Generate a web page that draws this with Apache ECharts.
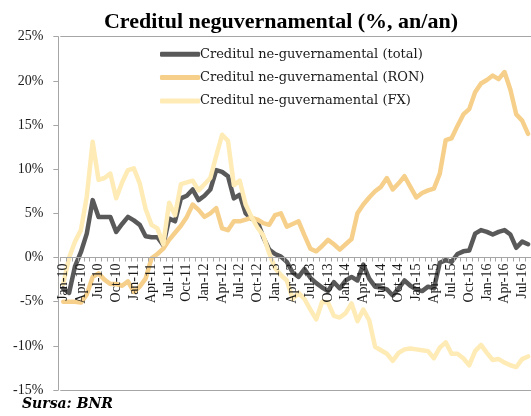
<!DOCTYPE html>
<html>
<head>
<meta charset="utf-8">
<script src="https://cdn.jsdelivr.net/npm/echarts@6/dist/echarts.min.js"></script>
<style>
html,body{margin:0;padding:0;background:#fff;}
#chart{width:531px;height:416px;}
</style>
</head>
<body>
<div id="chart"></div>
<script>
const categories = [
'Jan-10','Feb-10','Mar-10','Apr-10','May-10','Jun-10','Jul-10','Aug-10','Sep-10','Oct-10','Nov-10','Dec-10',
'Jan-11','Feb-11','Mar-11','Apr-11','May-11','Jun-11','Jul-11','Aug-11','Sep-11','Oct-11','Nov-11','Dec-11',
'Jan-12','Feb-12','Mar-12','Apr-12','May-12','Jun-12','Jul-12','Aug-12','Sep-12','Oct-12','Nov-12','Dec-12',
'Jan-13','Feb-13','Mar-13','Apr-13','May-13','Jun-13','Jul-13','Aug-13','Sep-13','Oct-13','Nov-13','Dec-13',
'Jan-14','Feb-14','Mar-14','Apr-14','May-14','Jun-14','Jul-14','Aug-14','Sep-14','Oct-14','Nov-14','Dec-14',
'Jan-15','Feb-15','Mar-15','Apr-15','May-15','Jun-15','Jul-15','Aug-15','Sep-15','Oct-15','Nov-15','Dec-15',
'Jan-16','Feb-16','Mar-16','Apr-16','May-16','Jun-16','Jul-16','Aug-16'
];
const totalValues = [
-3.5,-4.0,-1.0,0.6,2.7,6.5,4.6,4.6,4.6,2.9,3.8,4.6,
4.2,3.7,2.4,2.3,2.3,1.4,4.4,4.1,6.7,7.0,7.7,6.5,
7.0,7.7,9.9,9.7,9.2,6.7,7.1,5.0,4.4,4.1,2.3,0.9,
0.4,0.1,-0.5,-1.7,-2.2,-1.3,-2.3,-2.9,-3.4,-3.8,-2.8,-3.5,
-2.6,-2.2,-2.6,-0.8,-2.4,-3.3,-3.4,-3.6,-4.3,-3.5,-2.6,-3.2,
-3.6,-3.8,-3.3,-3.5,-0.6,-0.3,-0.5,0.4,0.7,0.8,2.7,3.1,
2.9,2.6,2.9,3.1,2.6,1.1,1.8,1.5
];
const ronValues = [
-5.0,-5.0,-5.0,-5.1,-4.2,-2.2,-1.8,-2.5,-3.0,-3.0,-3.2,-2.7,
-3.9,-3.3,-2.4,-0.1,0.4,1.0,2.0,2.8,3.6,4.6,6.0,5.4,
4.6,5.0,5.6,3.3,3.1,4.1,4.1,4.3,4.5,4.3,3.9,3.7,
4.8,5.0,3.5,3.8,4.1,2.5,1.0,0.7,1.3,2.0,1.5,0.9,
1.5,2.1,5.0,6.0,6.8,7.5,8.0,9.0,7.7,8.4,9.2,8.0,
6.8,7.3,7.6,7.8,9.5,13.3,13.5,14.9,16.2,16.8,18.7,19.7,
20.1,20.6,20.2,21.0,19.0,16.2,15.5,14.0
];
const fxValues = [
-3.0,0.0,1.8,3.1,6.9,13.1,8.8,9.0,9.5,6.7,8.5,9.9,
10.1,8.4,5.5,3.7,3.3,1.5,6.2,4.8,8.3,8.5,8.7,7.6,
8.3,9.0,11.5,13.9,13.2,8.2,8.7,6.0,4.6,3.4,2.5,0.5,
-1.2,-2.0,-2.6,-4.7,-4.0,-4.7,-5.9,-7.0,-5.0,-5.1,-6.6,-6.8,
-6.3,-5.2,-7.2,-5.9,-7.1,-10.1,-10.5,-10.9,-11.7,-10.8,-10.4,-10.3,
-10.4,-10.5,-10.6,-11.4,-10.2,-9.6,-10.9,-10.9,-11.4,-12.2,-10.6,-9.9,
-10.8,-11.6,-11.5,-11.9,-12.2,-12.4,-11.5,-11.2
];
const seriesNames = [
'Creditul ne-guvernamental (total)',
'Creditul ne-guvernamental (RON)',
'Creditul ne-guvernamental (FX)'
];
const yTicks = { min: -15, max: 25, step: 5 };

const serif = '"Liberation Serif", "DejaVu Serif", serif';
const wideSerif = '"DejaVu Serif", "Liberation Serif", serif';
const axisGrey = '#A6A6A6';
const gridTop = 36.7, gridHeight = 353.3;
const zeroOffset = -gridHeight * (0 - yTicks.min) / (yTicks.max - yTicks.min);

const chart = echarts.init(document.getElementById('chart'), null, {renderer: 'canvas'});

const lineSeries = (name, data, color, extra) => Object.assign({
  name: name,
  type: 'line',
  data: data,
  symbol: 'none',
  smooth: false,
  animation: false,
  lineStyle: { color: color, width: 4.5, cap: 'round', join: 'round' },
  itemStyle: { color: color }
}, extra || {});

chart.setOption({
  animation: false,
  backgroundColor: '#ffffff',
  title: {
    text: 'Creditul neguvernamental (%, an/an)',
    left: 276, top: 6, textAlign: 'center',
    textStyle: { fontFamily: serif, fontWeight: 'bold', fontSize: 22, color: '#000' }
  },
  legend: {
    orient: 'vertical',
    left: 155, top: 40,
    itemWidth: 40, itemHeight: 5, itemGap: 5,
    icon: 'roundRect',
    textStyle: { fontFamily: wideSerif, fontSize: 13, color: '#1a1a1a', lineHeight: 18.4, padding: [0,0,0,-5] },
    data: seriesNames
  },
  graphic: [{
    type: 'text', left: 22, top: 397,
    style: { text: 'Sursa: BNR', font: 'italic bold 14px ' + wideSerif, fill: '#000' }
  }],
  grid: { left: 60.3, top: gridTop, width: 475.2, height: gridHeight, containLabel: false },
  xAxis: {
    type: 'category',
    data: categories,
    boundaryGap: true,
    position: 'bottom',
    offset: zeroOffset,
    z: 10,
    axisLine: { onZero: false, lineStyle: { color: axisGrey, width: 1 } },
    axisTick: { show: true, interval: 0, length: 4, inside: false, lineStyle: { color: axisGrey } },
    axisLabel: { interval: 2, rotate: 90, margin: 6, fontFamily: serif, fontSize: 14, color: '#1a1a1a' },
    splitLine: { show: false }
  },
  yAxis: {
    type: 'value',
    min: yTicks.min, max: yTicks.max, interval: yTicks.step,
    offset: 2,
    axisLine: { show: true, onZero: false, lineStyle: { color: axisGrey, width: 1 } },
    axisTick: { show: true, length: 5, lineStyle: { color: axisGrey } },
    axisLabel: { margin: 15, fontFamily: serif, fontSize: 14, color: '#1a1a1a', formatter: v => v + '%' },
    splitLine: { show: false }
  },
  series: [
    lineSeries(seriesNames[0], totalValues, '#595959', {
      markLine: {
        silent: true, symbol: 'none', animation: false,
        label: { show: false },
        lineStyle: { color: axisGrey, width: 1, type: 'solid' },
        data: [{ yAxis: yTicks.max }, { yAxis: yTicks.min }]
      }
    }),
    lineSeries(seriesNames[1], ronValues, '#F6D08B'),
    lineSeries(seriesNames[2], fxValues, '#FFEBB5')
  ]
});
</script>
</body>
</html>
